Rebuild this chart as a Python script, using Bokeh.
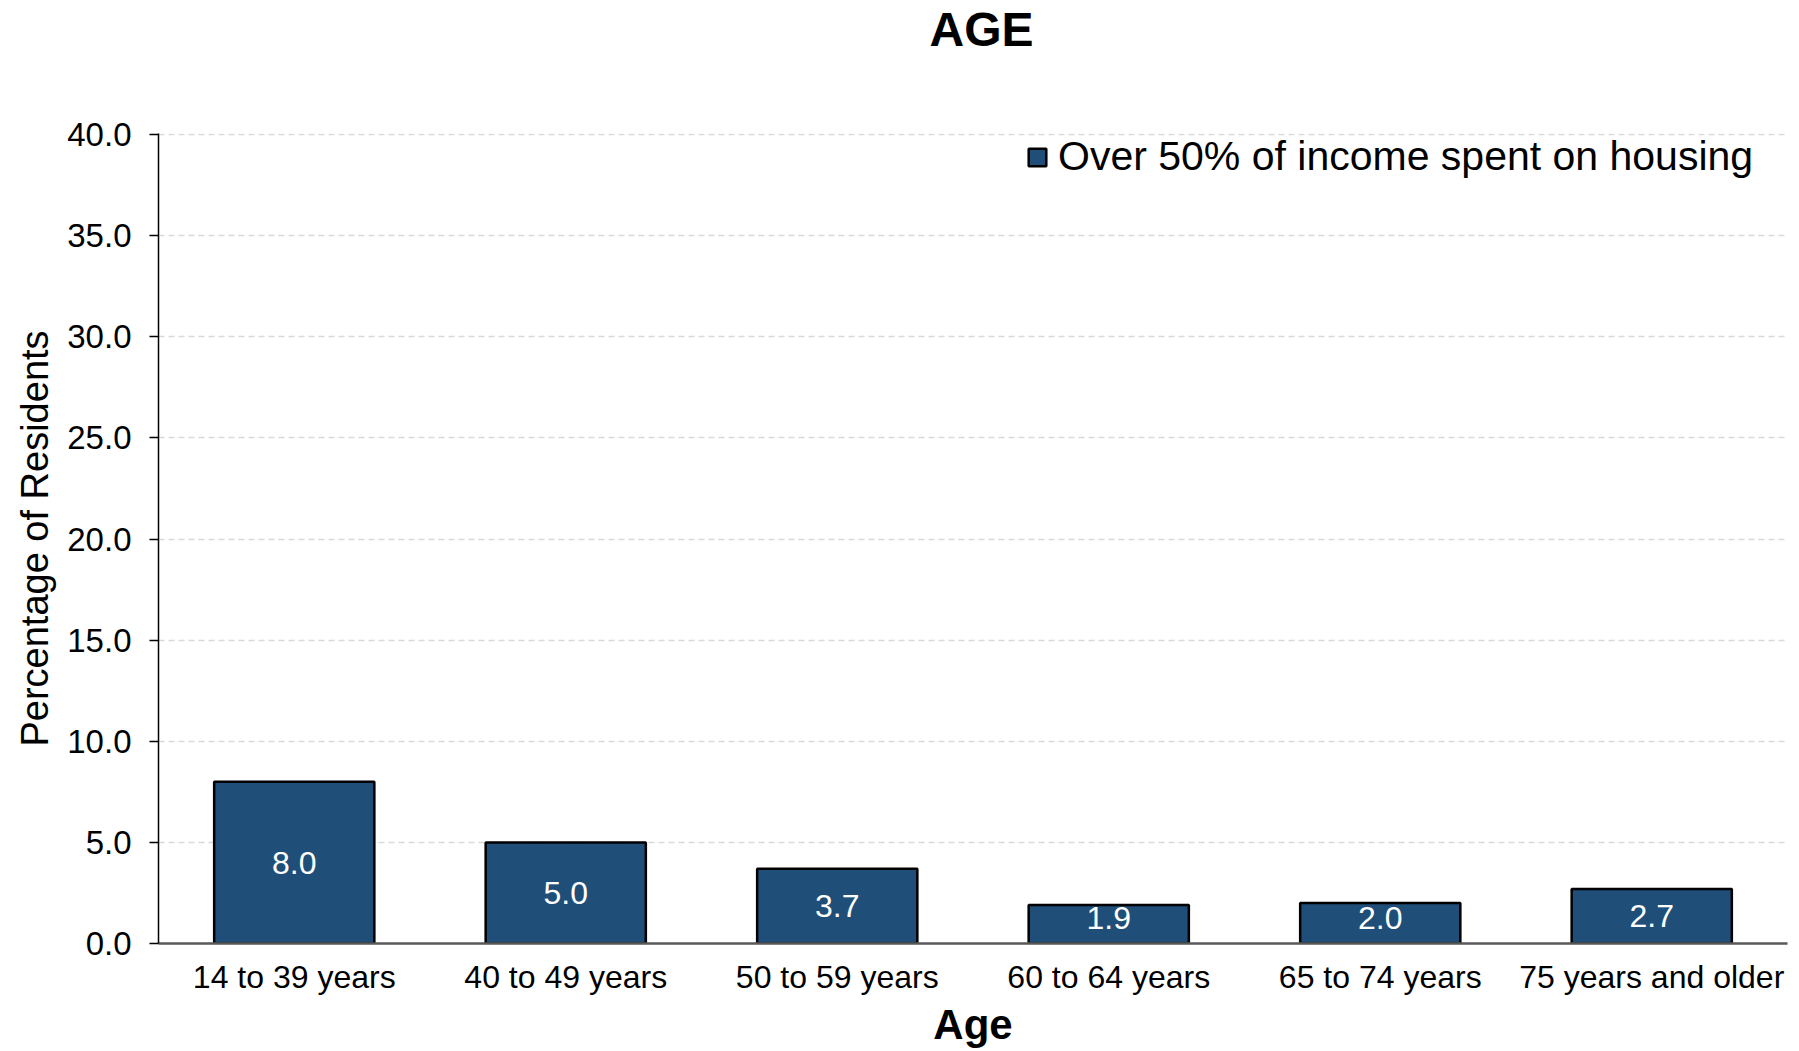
from bokeh.plotting import figure
from bokeh.models import ColumnDataSource, Range1d, FactorRange, SingleIntervalTicker, NumeralTickFormatter, Legend, LegendItem, LabelSet, Title
from bokeh.core.properties import value
from bokeh.embed import file_html
from bokeh.resources import INLINE

categories = ["14 to 39 years", "40 to 49 years", "50 to 59 years", "60 to 64 years", "65 to 74 years", "75 years and older"]
values = [8.0, 5.0, 3.7, 1.9, 2.0, 2.7]
series_name = "Over 50% of income spent on housing"
title_text = "AGE"
x_title = "Age"
y_title = "Percentage of Residents"

FONT = "Liberation Sans"
BAR_COLOR = "#1F4E79"

FRAME_H = 810

label_y = [max(v / 2.0, 1.25) for v in values]
src = ColumnDataSource(data=dict(cat=categories, val=values,
                                 txt=["%.1f" % v for v in values], ly=label_y))

p = figure(x_range=FactorRange(factors=categories, range_padding=0),
           y_range=Range1d(0, 40.05),
           width=1795, height=1051,
           min_border_left=158, min_border_right=8, min_border_top=133, min_border_bottom=108,
           output_backend="svg", toolbar_location=None, tools="")

r = p.vbar(x="cat", top="val", width=0.59, source=src,
           fill_color=BAR_COLOR, line_color="black", line_width=2.5)

labels = LabelSet(x="cat", y="ly", text="txt", source=src,
                  text_align="center", text_baseline="middle",
                  text_color="white", text_font=value(FONT), text_font_size="32px")
p.add_layout(labels)

# spacer between the title and the plot area, then the title itself
spacer = Title(text=" ", text_font=FONT, text_font_size="68px", standoff=0)
p.add_layout(spacer, "above")
title = Title(text=title_text, align="left", offset=771, standoff=0,
              text_font=FONT, text_font_size="48px", text_font_style="bold",
              text_color="black")
p.add_layout(title, "above")

p.outline_line_color = None
p.background_fill_color = "white"
p.border_fill_color = "white"

ya = p.yaxis[0]
ya.ticker = SingleIntervalTicker(interval=5)
ya.formatter = NumeralTickFormatter(format="0.0")
ya.axis_line_color = "black"
ya.axis_line_width = 1.5
ya.major_tick_line_color = "black"
ya.major_tick_line_width = 1.5
ya.major_tick_out = 9
ya.major_tick_in = 0
ya.minor_tick_line_color = None
ya.major_label_text_font = FONT
ya.major_label_text_font_size = "33px"
ya.major_label_text_color = "black"
ya.major_label_standoff = 18
ya.axis_label = y_title
ya.axis_label_text_font = FONT
ya.axis_label_text_font_size = "38px"
ya.axis_label_text_font_style = "normal"
ya.axis_label_text_color = "black"
ya.axis_label_standoff = 8

xa = p.xaxis[0]
xa.axis_line_color = "#595959"
xa.axis_line_width = 2.5
xa.major_tick_line_color = None
xa.minor_tick_line_color = None
xa.major_label_text_font = FONT
xa.major_label_text_font_size = "32px"
xa.major_label_text_color = "black"
xa.major_label_standoff = 9
xa.axis_label = x_title
xa.axis_label_text_font = FONT
xa.axis_label_text_font_size = "42px"
xa.axis_label_text_font_style = "bold"
xa.axis_label_text_color = "black"
xa.axis_label_standoff = 3

p.xgrid.grid_line_color = None
p.ygrid.grid_line_color = "#D9D9D9"
p.ygrid.grid_line_width = 1.5
p.ygrid.grid_line_dash = "6 4"

legend = Legend(items=[LegendItem(label=series_name, renderers=[r])],
                location=(868, FRAME_H - 47))
legend.label_text_font = FONT
legend.label_text_font_size = "41px"
legend.label_text_color = "black"
legend.glyph_width = 22
legend.glyph_height = 22
legend.label_standoff = 10
legend.border_line_color = None
legend.background_fill_alpha = 0
legend.padding = 0
legend.margin = 0
p.add_layout(legend)

open("out.html", "w").write(file_html(p, INLINE))
